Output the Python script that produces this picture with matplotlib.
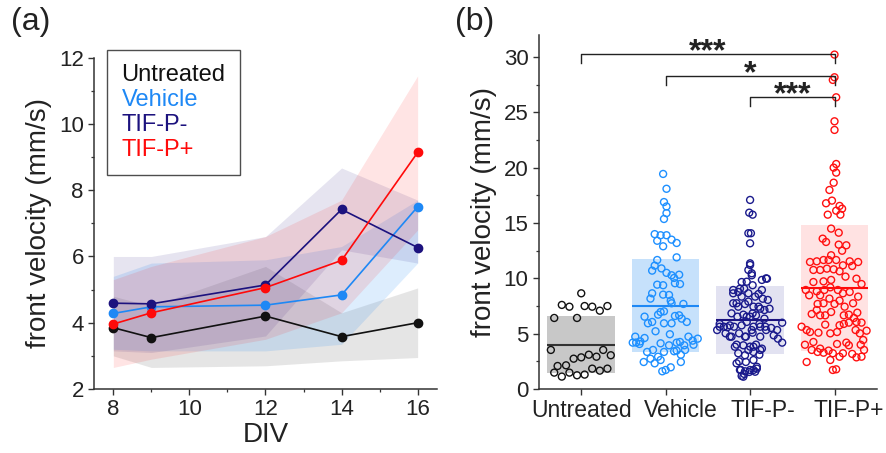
import numpy as np
import matplotlib.pyplot as plt
from matplotlib.lines import Line2D
from matplotlib.transforms import ScaledTranslation

plt.rcParams['font.family'] = ['Liberation Sans', 'DejaVu Sans']

# ---- panel (a): front velocity vs DIV ----
div = [8, 9, 12, 14, 16]
unt_mean = [3.85, 3.55, 4.20, 3.58, 4.00]
veh_mean = [4.28, 4.48, 4.53, 4.84, 7.50]
neg_mean = [4.59, 4.57, 5.14, 7.42, 6.27]
pos_mean = [3.96, 4.30, 5.06, 5.88, 9.14]

unt_lo = [3.00, 2.65, 2.70, 2.85, 2.95]
unt_hi = [4.80, 4.50, 5.70, 4.30, 5.05]
veh_lo = [3.20, 3.15, 3.15, 3.35, 5.80]
veh_hi = [5.40, 5.80, 5.90, 6.30, 7.70]
neg_lo = [3.15, 3.10, 3.60, 6.20, 5.80]
neg_hi = [6.00, 6.00, 6.60, 8.67, 7.70]
pos_lo = [2.65, 2.90, 3.50, 4.30, 6.80]
pos_hi = [5.30, 5.70, 6.60, 7.70, 11.45]

# ---- panel (b): individual velocities ----
groups = ['Untreated', 'Vehicle', 'TIF-P-', 'TIF-P+']

unt_v = [8.65, 7.6, 7.44, 7.5, 7.44, 7.08, 7.5, 6.42, 6.42, 3.53, 2.08, 2.14, 2.74,
         2.86, 3.1, 2.92, 3.53, 3.05, 1.48, 1.12, 1.48, 1.24, 1.3, 1.84, 1.66, 1.84]
unt_dx = [0.0, -0.23, -0.14, 0.04, 0.13, 0.22, 0.31, -0.32, -0.05, -0.36, -0.28, -0.18, -0.09,
          0.0, 0.09, 0.18, 0.26, 0.35, -0.32, -0.23, -0.14, -0.05, 0.04, 0.13, 0.22, 0.31]

veh_v = [19.44, 18.1, 16.9, 16.5, 15.9, 15.37, 14.0, 13.9, 13.9, 13.5, 13.2, 13.4, 12.9,
         11.9, 11.66, 11.15, 10.7, 10.9, 10.5, 10.28, 10.04, 10.33, 9.43, 9.38, 9.56, 9.49,
         8.65, 8.17, 8.53, 8.5, 7.75, 7.98, 7.69, 6.54, 5.94, 6.06, 6.72, 7.02, 6.96, 5.94,
         5.94, 6.6, 6.66, 6.36, 6.06, 5.22, 4.95, 4.73, 4.19, 4.07, 4.61, 4.13, 3.95, 4.19,
         4.25, 3.95, 4.73, 4.37, 4.55, 4.0, 3.35, 3.53, 2.92, 3.35, 3.41, 3.1, 2.44, 2.74,
         2.32, 2.62, 2.44, 1.6, 1.72, 1.96, 3.53, 3.47, 4.2, 4.3]
veh_dx = [-0.03, 0.01, -0.02, 0.01, 0.01, -0.02, -0.13, -0.06, 0.01, 0.07, 0.13, -0.1, -0.03,
          0.13, -0.1, -0.13, -0.16, -0.05, 0.01, 0.07, 0.1, 0.16, -0.1, -0.03, 0.11, 0.17,
          -0.16, -0.18, -0.03, 0.04, 0.07, 0.06, 0.21, -0.25, -0.21, -0.16, -0.09, -0.02, -0.06, -0.02,
          0.07, 0.11, 0.16, 0.19, 0.25, -0.12, 0.05, -0.36, -0.39, -0.31, -0.25, -0.06, 0.04, 0.13,
          0.17, 0.22, 0.27, 0.32, 0.38, 0.33, -0.22, -0.15, -0.09, -0.02, 0.1, 0.18, -0.26, -0.18,
          -0.13, -0.06, 0.18, -0.04, 0.0, 0.06, 0.23, 0.13, -0.35, -0.3]

neg_v = [17.09, 15.94, 15.76, 14.08, 14.08, 13.17, 11.36, 10.76, 10.28, 9.86, 9.97, 9.67, 9.38,
         8.95, 8.77, 9.07, 8.65, 8.59, 8.16, 8.05, 7.75, 7.44, 7.68, 7.44, 7.26, 7.26, 6.84,
         6.54, 6.72, 6.54, 6.66, 6.36, 5.88, 5.33, 5.63, 5.75, 5.63, 5.75, 6.06, 5.63, 5.88,
         5.63, 5.52, 5.33, 5.99, 4.55, 4.19, 5.03, 4.73, 5.03, 4.73, 5.09, 4.73, 4.85, 4.01,
         3.95, 3.83, 4.01, 3.65, 3.23, 3.05, 3.35, 3.1, 2.5, 2.44, 2.62, 1.72, 1.6, 1.54,
         1.72, 1.84, 1.18, 1.36,
         5.63, 5.58, 8.65, 7.75, 9.07, 4.73, 3.82, 2.32, 1.72, 1.11, 1.72, 1.56, 2.01, 3.53,
         3.82, 3.53, 4.73, 5.33, 5.63, 5.33, 6.54, 6.84, 7.44, 7.14, 8.35, 7.9, 8.35, 8.95,
         10.0, 9.7, 10.46, 11.21]
neg_dx = [0.0, -0.01, 0.03, -0.02, 0.01, 0.0, 0.0, -0.02, 0.02, 0.14, 0.2, -0.1, 0.03,
          -0.2, -0.14, -0.07, -0.02, 0.1, 0.15, 0.21, -0.2, -0.14, -0.06, 0.04, 0.12, 0.23, -0.22,
          -0.15, -0.08, 0.0, 0.07, 0.17, -0.36, -0.39, -0.31, -0.24, -0.19, -0.1, -0.04, 0.04, 0.11,
          0.18, 0.25, 0.32, 0.38, 0.33, 0.38, -0.29, -0.22, -0.13, -0.05, 0.03, 0.12, 0.28, -0.16,
          -0.08, 0.0, 0.07, 0.14, -0.14, -0.06, 0.04, 0.11, -0.13, -0.05, 0.04, -0.11, -0.06, -0.01,
          0.04, 0.08, -0.1, -0.07,
          -0.36, -0.27, -0.2, -0.16, -0.12, -0.24, -0.18, -0.16, -0.12, -0.08, 0.0, 0.06, 0.08, -0.02,
          0.04, 0.12, -0.06, 0.02, 0.12, 0.19, -0.04, 0.03, 0.1, 0.17, -0.1, -0.02, 0.06, 0.14,
          0.19, -0.04, 0.02, 0.0]

pos_v = [30.23, 27.94, 28.18, 26.37, 24.2, 23.42, 20.34, 20.01, 19.56, 18.65, 17.99,
         16.79, 17.03, 16.55, 16.3, 16.12, 15.76, 15.76, 14.5, 14.13, 13.59, 13.29, 13.05, 12.99,
         12.5, 12.09, 11.66, 11.48, 11.54, 11.66, 11.66, 11.18, 11.54, 11.48, 10.76, 10.76, 10.88,
         10.82, 10.64, 11.12, 10.16, 9.67, 9.73, 9.86, 9.97, 9.49, 8.95, 8.83, 8.95, 9.19, 8.95,
         8.65, 8.77, 8.35, 8.47, 8.47, 8.17, 7.99, 7.69, 7.75, 7.69, 7.44, 7.75, 7.14, 6.96,
         6.78, 6.66, 6.66, 6.66, 6.72, 6.9, 6.42, 5.88, 6.0, 6.06, 6.0, 5.82, 5.03, 5.15, 5.76,
         5.63, 5.33, 5.15, 5.09, 5.33, 5.03, 5.27, 4.43, 4.0, 4.0, 4.25, 3.53, 3.65, 3.28, 3.47,
         3.23, 4.07, 4.19, 3.95, 3.23, 3.17, 2.86, 3.53, 2.92, 2.92, 3.35, 2.44, 1.72, 1.78, 2.62]
pos_dx = [0.0, -0.02, 0.0, 0.02, 0.0, 0.0, 0.02, -0.01, 0.02, -0.01, -0.06,
          -0.1, -0.03, 0.06, 0.09, 0.02, -0.08, 0.07, -0.04, 0.05, -0.14, -0.1, 0.05, 0.14,
          0.09, -0.04, -0.07, -0.29, -0.21, -0.13, 0.02, 0.1, 0.18, 0.28, -0.25, -0.17, -0.09,
          -0.01, 0.06, 0.21, 0.13, -0.25, -0.13, -0.04, 0.26, 0.32, -0.34, -0.21, -0.12, -0.05, 0.04,
          0.1, 0.18, 0.28, -0.3, -0.17, -0.06, 0.06, -0.2, -0.13, 0.0, 0.12, 0.22, -0.21, -0.04,
          -0.27, -0.17, -0.11, 0.11, 0.17, 0.27, 0.23, 0.11, 0.17, 0.26, 0.32, -0.11, -0.05, 0.03, 0.06,
          -0.39, -0.33, -0.29, -0.19, 0.25, 0.3, 0.38, 0.34, 0.31, -0.35, -0.25, -0.27, -0.17, -0.13, -0.07,
          -0.02, 0.03, 0.14, 0.17, 0.1, 0.21, 0.26, 0.35, 0.32, 0.06, -0.2, -0.33, -0.02, 0.02, -0.05]

box_lo = [1.42, 3.32, 3.16, 3.46]
box_hi = [6.60, 11.73, 9.31, 14.80]
box_mid = [3.98, 7.50, 6.24, 9.16]

# significance brackets: (from group, to group, height, label)
sig_pairs = [(1, 4, 30.3, '***'), (2, 4, 28.3, '*'), (3, 4, 26.4, '***')]

c_unt = '#111111'
c_veh = '#1E88F5'
c_neg = '#1C127E'
c_pos = '#FF0A0A'

fig = plt.figure(figsize=(8.87, 4.53), dpi=100)
axa = fig.add_axes([0.1063, 0.1413, 0.386, 0.7314])
axb = fig.add_axes([0.6077, 0.1413, 0.3807, 0.7814])

for ax in (axa, axb):
    ax.spines['top'].set_visible(False)
    ax.spines['right'].set_visible(False)
    for s in ('left', 'bottom'):
        ax.spines[s].set_linewidth(1.1)
        ax.spines[s].set_color('#333333')
    ax.tick_params(which='major', direction='out', length=4.5, width=1.0, color='#333333',
                   labelsize=16, pad=3, labelcolor='#222222')
    ax.tick_params(which='minor', direction='out', length=2.5, width=0.9, color='#333333')

# panel (a)
bands = [(unt_lo, unt_hi, '#9A9A9A', 0.25),
         (veh_lo, veh_hi, c_veh, 0.15),
         (neg_lo, neg_hi, c_neg, 0.11),
         (pos_lo, pos_hi, c_pos, 0.11)]
for lo, hi, col, a in bands:
    axa.fill_between(div, lo, hi, color=col, alpha=a, linewidth=0)

for m, col in [(unt_mean, c_unt), (veh_mean, c_veh), (neg_mean, c_neg), (pos_mean, c_pos)]:
    axa.plot(div, m, color=col, lw=1.2, marker='o', ms=6, zorder=3)

axa.set_xlim(7.5, 16.5)
axa.set_ylim(2, 12)
axa.set_xticks([8, 10, 12, 14, 16])
axa.set_xticks([9, 11, 13, 15], minor=True)
axa.set_yticks([2, 4, 6, 8, 10, 12])
axa.set_yticks([3, 5, 7, 9, 11], minor=True)
axa.set_xlabel('DIV', fontsize=20, labelpad=1, color='#222222')
axa.set_ylabel('front velocity (mm/s)', fontsize=20, labelpad=5, color='#222222')

handles = [Line2D([], [], color=c, lw=0) for c in (c_unt, c_veh, c_neg, c_pos)]
leg = axa.legend(handles, ['Untreated', 'Vehicle', 'TIF-P-', 'TIF-P+'],
                 loc='upper left', bbox_to_anchor=(0.038, 1.023), borderaxespad=0,
                 handlelength=0, handletextpad=0, fontsize=17, labelspacing=0.12,
                 frameon=True, fancybox=False, borderpad=0.6,
                 labelcolor=[c_unt, c_veh, c_neg, c_pos])
leg.get_frame().set_edgecolor('#222222')
leg.get_frame().set_linewidth(1.0)

# panel (b)
pos_x = np.arange(1, 5)
box_cols = ['#C8C8C8', '#C6E1FB', '#E2E2F1', '#FFE2E2']
line_cols = ['#333333', c_veh, c_neg, c_pos]
pt_cols = ['#111111', '#1E90FF', '#1A1A8C', '#FF1010']

axb.bar(pos_x, np.array(box_hi) - np.array(box_lo), bottom=box_lo, width=0.8,
        color=box_cols, linewidth=0, zorder=1)
for x, m, col in zip(pos_x, box_mid, line_cols):
    axb.hlines(m, x - 0.4, x + 0.4, color=col, lw=1.5, zorder=2)

for i, (vals, dxs) in enumerate([(unt_v, unt_dx), (veh_v, veh_dx), (neg_v, neg_dx), (pos_v, pos_dx)]):
    axb.scatter(pos_x[i] + np.array(dxs), vals, s=25, facecolors='none',
                edgecolors=pt_cols[i], linewidths=1.0, zorder=3)

for a, b, h, lab in sig_pairs:
    axb.plot([a, a, b, b], [h - 0.8, h, h, h - 0.8], color='#222222', lw=1.0, zorder=4)
    axb.text((a + b) / 2, h - 0.55, lab, ha='center', va='baseline', fontsize=23,
             fontweight='bold', color='#222222')

axb.set_xlim(0.5, 4.5)
axb.set_ylim(0, 32)
axb.set_xticks(pos_x)
axb.set_xticklabels(groups, fontsize=16.5)
# the category names sit a little right of their ticks in the original
for lbl, shift in zip(axb.get_xticklabels(), [0.0, 0.15, 0.13, 0.14]):
    lbl.set_transform(lbl.get_transform() + ScaledTranslation(shift, 0, fig.dpi_scale_trans))
axb.set_yticks([0, 5, 10, 15, 20, 25, 30])
axb.set_yticks(np.arange(2.5, 32, 5), minor=True)
axb.set_ylabel('front velocity (mm/s)', fontsize=20, labelpad=5, color='#222222')

fig.text(0.012, 0.985, '(a)', fontsize=23, va='top', ha='left', color='#222222')
fig.text(0.513, 0.985, '(b)', fontsize=23, va='top', ha='left', color='#222222')

fig.savefig('out.png', dpi=100)
